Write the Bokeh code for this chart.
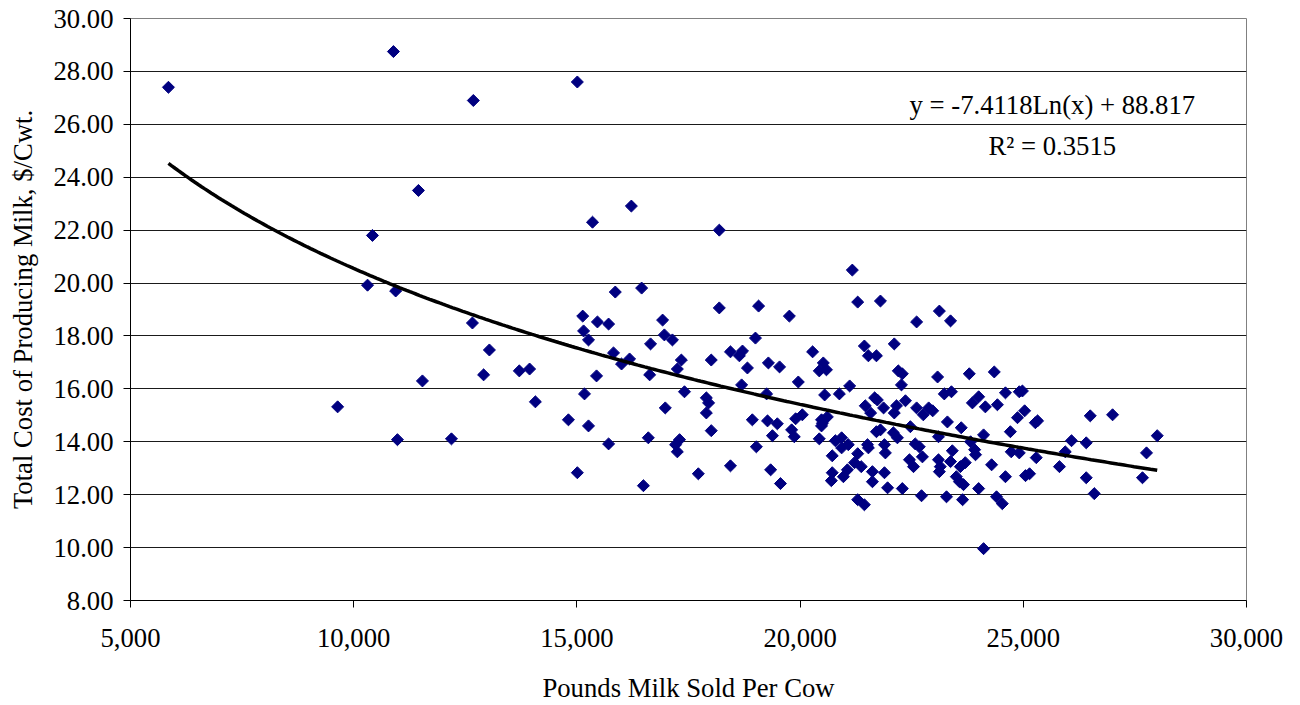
import numpy as np
from bokeh.plotting import figure
from bokeh.models import NumeralTickFormatter, FixedTicker, Label, Range1d
from bokeh.embed import file_html
from bokeh.resources import INLINE

# Pounds milk sold per cow (x) and total cost $/cwt (y)
milk_sold = [
    5850, 10890, 12680, 15010, 11450, 10420, 10310, 10940, 12660, 13040,
    12910, 13710, 13940, 14070, 11540, 9640, 10980, 12190, 15350, 16220,
    18190, 15860, 16450, 15130, 15460, 15710, 15150, 15260, 16920, 16960,
    17140, 18190, 19070, 19760, 19000, 16650, 15820, 16000, 16180, 16630,
    15440, 17340, 17250, 18010, 18440, 18640, 18710, 18820, 19290, 19540,
    18690, 19960, 20280, 20520, 20430, 20590, 20550, 15170, 17410, 17900,
    19250, 20880, 17950, 14810, 15260, 16980, 17900, 18010, 18930, 19270,
    19490, 19900, 20050, 19810, 19870, 19380, 20480, 20480, 20610, 20430,
    20790, 20720, 20720, 20700, 15710, 16600, 17300, 17210, 17250, 19020,
    15010, 16490, 17720, 18440, 19340, 19560, 21170, 21290, 21800, 22610,
    23120, 23370, 21440, 21530, 21710, 22110, 22200, 22290, 22270, 23080,
    23790, 24350, 21110, 21670, 21730, 21460, 21870, 22160, 22360, 22610,
    22880, 23230, 23390, 24000, 23860, 24150, 24420, 24600, 24910, 21580,
    22110, 22760, 22970, 23300, 23610, 24110, 24710, 24870, 20500, 20930,
    20930, 21080, 21290, 21220, 21370, 21060, 20970, 21510, 21530, 21620,
    21620, 21890, 21910, 21890, 21960, 21290, 21440, 21710, 21800, 22090,
    22180, 22290, 22470, 22450, 22540, 22580, 22670, 22740, 22720, 23100,
    23100, 23140, 23120, 23280, 23410, 23370, 23590, 23700, 23500, 23570,
    23660, 23640, 23820, 23910, 23930, 24000, 24110, 24290, 24600, 24400,
    24530, 24730, 24980, 25030, 25270, 25320, 24910, 25290, 25050, 25140,
    25810, 25940, 26080, 26410, 26500, 27000, 26410, 26590, 27670, 27760,
    28000,
]
total_cost = [
    27.40, 28.75, 26.90, 27.60, 23.50, 21.80, 19.92, 19.70, 18.49, 17.47,
    16.53, 16.68, 16.75, 15.51, 16.30, 15.32, 14.08, 14.11, 22.30, 22.91,
    22.00, 19.66, 19.81, 18.75, 18.53, 18.45, 18.19, 17.85, 18.60, 18.04,
    17.85, 19.06, 19.13, 18.75, 17.92, 17.70, 17.36, 16.94, 17.13, 16.53,
    16.49, 17.09, 16.75, 17.09, 17.40, 17.25, 17.43, 16.79, 16.98, 16.83,
    16.15, 16.26, 17.40, 16.98, 16.68, 16.72, 15.77, 15.81, 15.89, 15.66,
    15.81, 15.81, 15.47, 14.83, 14.60, 15.28, 15.09, 14.42, 14.83, 14.79,
    14.68, 14.87, 15.02, 14.45, 14.19, 14.23, 14.83, 14.60, 14.94, 14.11,
    14.04, 13.47, 12.83, 12.53, 13.92, 14.15, 14.08, 13.89, 13.62, 13.81,
    12.83, 12.34, 12.79, 13.09, 12.94, 12.42, 20.49, 19.28, 19.32, 18.53,
    18.94, 18.57, 17.62, 17.25, 17.25, 17.70, 16.68, 16.57, 16.15, 16.45,
    16.57, 16.64, 16.11, 15.66, 15.58, 15.36, 15.28, 15.36, 15.55, 15.28,
    15.28, 15.81, 15.89, 15.70, 15.47, 15.32, 15.40, 15.85, 15.89, 15.09,
    15.09, 15.02, 15.17, 14.75, 14.53, 14.26, 14.38, 14.91, 14.70, 14.15,
    13.77, 13.89, 13.55, 13.21, 13.06, 12.94, 12.68, 13.89, 13.77, 12.87,
    12.49, 13.89, 13.58, 12.83, 12.26, 11.81, 11.62, 14.38, 14.45, 14.34,
    14.15, 12.23, 14.57, 13.32, 13.06, 13.92, 13.81, 13.43, 11.96, 14.19,
    13.32, 13.06, 12.87, 11.92, 13.66, 13.25, 13.06, 13.21, 12.68, 12.49,
    12.38, 11.81, 14.00, 13.70, 13.51, 12.23, 9.96, 13.13, 12.68, 11.92,
    11.66, 13.62, 15.92, 15.17, 14.72, 14.79, 13.58, 13.40, 12.72, 12.79,
    13.06, 13.62, 14.04, 13.96, 14.98, 15.02, 12.64, 12.04, 12.64, 13.58,
    14.23,
]

# Logarithmic trendline as stated on the chart
trend_slope = -7.4118
trend_intercept = 88.817
trend_eq_text = "y = -7.4118Ln(x) + 88.817"
trend_r2_text = "R\u00b2 = 0.3515"

x_ticks = [5000, 10000, 15000, 20000, 25000, 30000]
y_ticks = [8, 10, 12, 14, 16, 18, 20, 22, 24, 26, 28, 30]

FONT = "Liberation Serif"
FS = "26.7px"

p = figure(width=1300, height=705, output_backend="svg", toolbar_location=None,
           x_range=Range1d(5000, 30000), y_range=Range1d(8, 30),
           min_border_left=130, min_border_right=54, min_border_top=18,
           min_border_bottom=104)
p.background_fill_color = "white"
p.border_fill_color = "white"
p.outline_line_color = "#808080"
p.outline_line_width = 1

p.xgrid.visible = False
p.ygrid.ticker = FixedTicker(ticks=y_ticks)
p.ygrid.grid_line_color = "#1a1a1a"
p.ygrid.grid_line_width = 1

p.xaxis.ticker = FixedTicker(ticks=x_ticks)
p.yaxis.ticker = FixedTicker(ticks=y_ticks)
p.xaxis.formatter = NumeralTickFormatter(format="0,0")
p.yaxis.formatter = NumeralTickFormatter(format="0.00")

for ax in (p.xaxis[0], p.yaxis[0]):
    ax.axis_line_color = "black"
    ax.axis_line_width = 1
    ax.major_tick_line_color = "black"
    ax.major_tick_in = 0
    ax.major_tick_out = 7
    ax.minor_tick_line_color = None
    ax.major_label_text_font = FONT
    ax.major_label_text_font_size = FS
    ax.major_label_text_color = "black"
    ax.axis_label_text_font = FONT
    ax.axis_label_text_font_size = FS
    ax.axis_label_text_font_style = "normal"
    ax.axis_label_text_color = "black"

p.xaxis.axis_label = "Pounds Milk Sold Per Cow"
p.yaxis.axis_label = "Total Cost of Producing Milk, $/Cwt."
p.xaxis.major_label_standoff = 21
p.xaxis.axis_label_standoff = 23
p.yaxis.major_label_standoff = 10
p.yaxis.axis_label_standoff = 12

p.scatter(milk_sold, total_cost, marker="square", size=8.5, angle=np.pi / 4,
          fill_color="#000080", line_color="#000080", line_width=1)

xs = np.linspace(min(milk_sold), max(milk_sold), 300)
ys = trend_slope * np.log(xs) + trend_intercept
p.line(xs, ys, line_color="black", line_width=3.5)

eq_x = 25650
p.add_layout(Label(x=eq_x, y=26.72, text=trend_eq_text, text_align="center",
                   text_baseline="middle", text_font=FONT, text_font_size=FS,
                   text_color="black"))
p.add_layout(Label(x=eq_x, y=25.17, text=trend_r2_text, text_align="center",
                   text_baseline="middle", text_font=FONT, text_font_size=FS,
                   text_color="black"))

open("out.html", "w").write(file_html(p, INLINE))
